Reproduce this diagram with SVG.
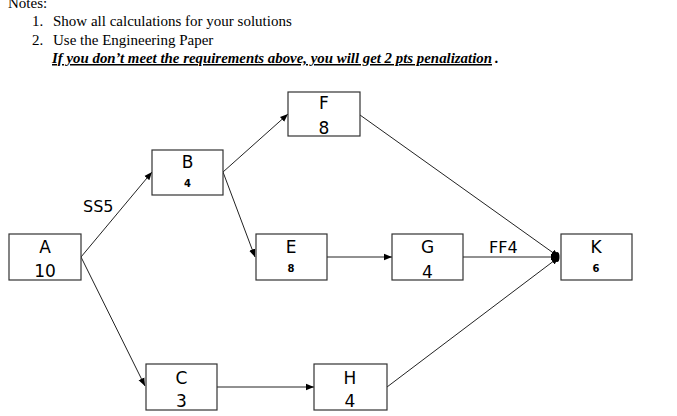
<svg xmlns="http://www.w3.org/2000/svg" width="677" height="416" viewBox="0 0 677 416">
<style>
.note{font-family:"Liberation Serif","Times New Roman",serif;font-size:15px;fill:#000}
.warn{font-family:"Liberation Serif","Times New Roman",serif;font-size:15px;font-weight:bold;font-style:italic;fill:#000}
.box{fill:#fff;stroke:#333;stroke-width:1.2}
.big{font-family:"DejaVu Sans",Verdana,sans-serif;font-size:17px;fill:#000;text-anchor:middle}
.small{font-family:"DejaVu Sans",Verdana,sans-serif;font-size:10px;font-weight:bold;fill:#000;text-anchor:middle}
.lbl{font-family:"DejaVu Sans",Verdana,sans-serif;font-size:16px;fill:#000}
.edge{stroke:#222;stroke-width:1;fill:none;marker-end:url(#ah)}
</style>
<defs>
<marker id="ah" viewBox="0 0 10 10" refX="10" refY="5" markerWidth="8" markerHeight="8" markerUnits="userSpaceOnUse" orient="auto">
<path d="M0,1 L10,5 L0,9 Z" fill="#000"/>
</marker>
</defs>
<rect width="677" height="416" fill="#fff"/>
<g id="notes">
<text class="note" x="8" y="8">Notes:</text>
<text class="note" x="32" y="26">1.</text>
<text class="note" x="53" y="26">Show all calculations for your solutions</text>
<text class="note" x="32" y="45">2.</text>
<text class="note" x="53" y="45">Use the Engineering Paper</text>
<text class="warn" x="52" y="63" text-decoration="underline" textLength="440" lengthAdjust="spacingAndGlyphs">If you don’t meet the requirements above, you will get 2 pts penalization</text>
<text class="warn" x="495" y="63">.</text>
</g>
<g id="connectors">
<line class="edge" x1="81" y1="257" x2="152" y2="172"/>
<line class="edge" x1="81" y1="257" x2="145" y2="386"/>
<line class="edge" x1="223" y1="172" x2="288" y2="114"/>
<line class="edge" x1="223" y1="172" x2="255" y2="257"/>
<line class="edge" x1="327" y1="257" x2="392" y2="257"/>
<line class="edge" x1="217" y1="387" x2="314" y2="387"/>
<line class="edge" x1="360" y1="115" x2="559" y2="257"/>
<line class="edge" x1="463" y1="257" x2="559" y2="257"/>
<line class="edge" x1="387" y1="387" x2="559" y2="257"/>
<ellipse cx="557" cy="257" rx="2.5" ry="5" fill="#000"/>
<text class="lbl" x="83" y="212">SS5</text>
<text class="lbl" x="489" y="253">FF4</text>
</g>
<g id="node-A"><rect class="box" x="9" y="234" width="72" height="46"/><text class="big" x="45" y="253">A</text><text class="big" x="45" y="277">10</text></g>
<g id="node-B"><rect class="box" x="152" y="150" width="71" height="45"/><text class="big" x="187.5" y="168">B</text><text class="small" x="187.5" y="187">4</text></g>
<g id="node-F"><rect class="box" x="288" y="92" width="72" height="44"/><text class="big" x="324" y="109">F</text><text class="big" x="324" y="134">8</text></g>
<g id="node-E"><rect class="box" x="256" y="234" width="71" height="46"/><text class="big" x="291" y="253">E</text><text class="small" x="291" y="272">8</text></g>
<g id="node-G"><rect class="box" x="392" y="234" width="71" height="46"/><text class="big" x="427.5" y="253">G</text><text class="big" x="427.5" y="278">4</text></g>
<g id="node-K"><rect class="box" x="561" y="234" width="71" height="46"/><text class="big" x="596" y="253">K</text><text class="small" x="596" y="272">6</text></g>
<g id="node-C"><rect class="box" x="146" y="364" width="71" height="46"/><text class="big" x="181.5" y="384">C</text><text class="big" x="181.5" y="407">3</text></g>
<g id="node-H"><rect class="box" x="314" y="364" width="73" height="46"/><text class="big" x="350" y="384">H</text><text class="big" x="350" y="407">4</text></g>
</svg>
